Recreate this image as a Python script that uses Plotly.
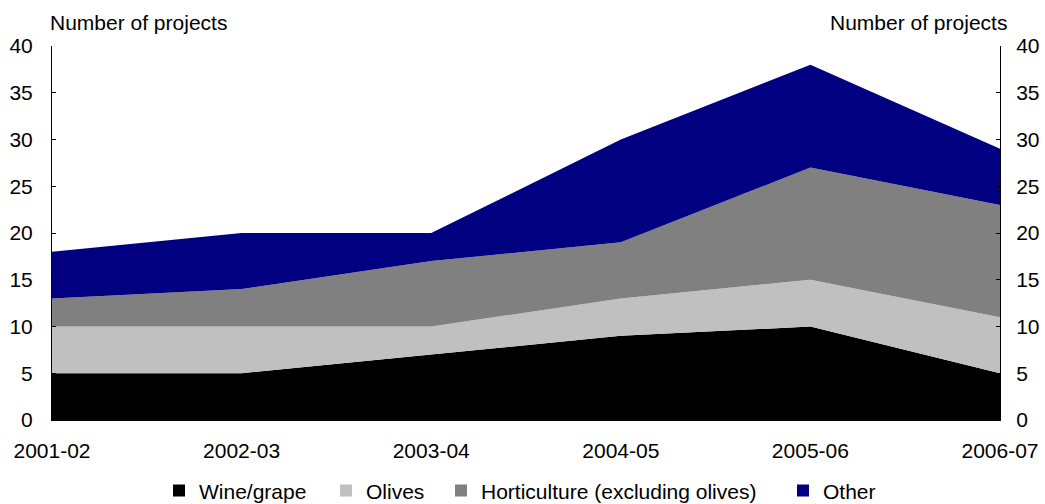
import plotly.graph_objects as go

years = ["2001-02", "2002-03", "2003-04", "2004-05", "2005-06", "2006-07"]
wine = [5, 5, 7, 9, 10, 5]
olives = [5, 5, 3, 4, 5, 6]
horticulture = [3, 4, 7, 6, 12, 12]
other = [5, 6, 3, 11, 11, 6]

series = [
    ("Wine/grape", wine, "#000000"),
    ("Olives", olives, "#C0C0C0"),
    ("Horticulture (excluding olives)", horticulture, "#808080"),
    ("Other", other, "#000080"),
]
legend_ids = ["legend", "legend2", "legend3", "legend4"]
legend_x_px = [159, 326, 441, 783]

fig = go.Figure()
for name, vals, col in series:
    fig.add_trace(go.Scatter(
        x=years, y=vals, name=name, stackgroup="one", mode="lines",
        line=dict(width=0, color=col), fillcolor=col, showlegend=False,
    ))
# legend entries with square markers
for (name, vals, col), lid in zip(series, legend_ids):
    fig.add_trace(go.Scatter(
        x=[None], y=[None], name=name, mode="markers", legend=lid,
        marker=dict(symbol="square", size=14, color=col), showlegend=True,
    ))
# invisible trace to anchor right axis
fig.add_trace(go.Scatter(x=years, y=[0] * len(years), yaxis="y2", mode="lines",
                         line=dict(width=0), showlegend=False, hoverinfo="skip"))

font = dict(family="Arial, Liberation Sans, sans-serif", size=21, color="#000000")
legends = {}
for lid, px in zip(legend_ids, legend_x_px):
    legends[lid] = dict(orientation="h", xref="container", x=px / 1045, xanchor="left",
                        yref="container", y=0.026, yanchor="middle",
                        font=dict(size=21), itemsizing="constant",
                        bgcolor="rgba(0,0,0,0)")
fig.update_layout(
    width=1045, height=504,
    paper_bgcolor="white", plot_bgcolor="white",
    margin=dict(l=52, r=45, t=46, b=84, autoexpand=False),
    font=font,
    showlegend=True,
    xaxis=dict(type="category", range=[0, 5], showgrid=False, showline=True,
               linecolor="#000000", linewidth=1, ticks="", tickfont=font,
               zeroline=False, automargin=False, ticklabelstandoff=12),
    yaxis=dict(range=[0, 40], dtick=5, showgrid=False, showline=True, linecolor="#000000",
               linewidth=1, ticks="inside", ticklen=4, tickcolor="#000000", zeroline=False,
               tickfont=font, automargin=False, ticklabelstandoff=14),
    yaxis2=dict(range=[0, 40], dtick=5, overlaying="y", side="right", showgrid=False,
                showline=True, linecolor="#000000", linewidth=1, ticks="inside", ticklen=4,
                tickcolor="#000000", zeroline=False, tickfont=font, automargin=False,
                ticklabelstandoff=11),
    annotations=[
        dict(text="Number of projects", xref="paper", yref="paper", x=0, y=1, xanchor="left",
             yanchor="bottom", yshift=10, xshift=-4, showarrow=False, font=font),
        dict(text="Number of projects", xref="paper", yref="paper", x=1, y=1, xanchor="right",
             yanchor="bottom", yshift=10, xshift=9, showarrow=False, font=font),
    ],
    **legends,
)
fig.write_html("out.html", post_script="document.body.style.margin='0px';",
               config={"displayModeBar": False})
